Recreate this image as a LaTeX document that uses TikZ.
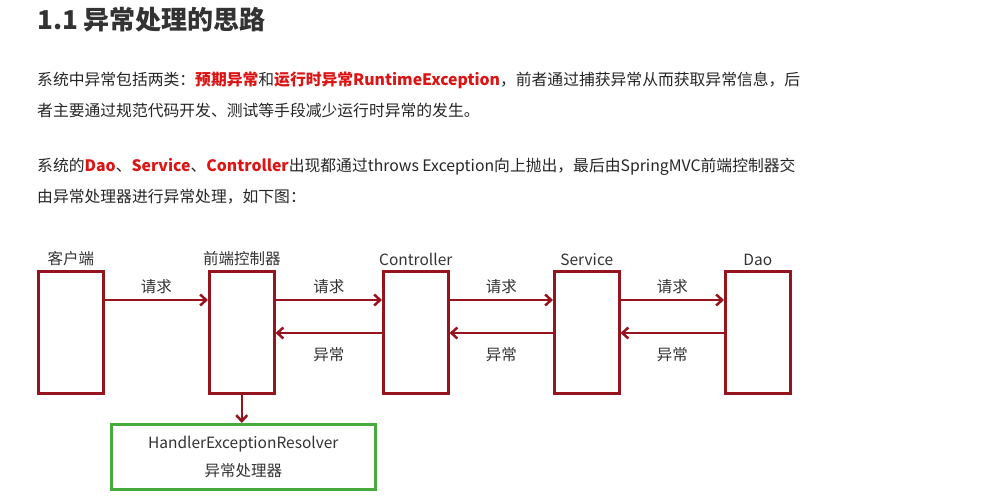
\documentclass[tikz,border=0pt]{standalone}
\usetikzlibrary{arrows.meta}
\usepackage{fontspec}
\setmainfont{Noto Sans CJK SC}
\definecolor{dr}{RGB}{150,20,30}
\definecolor{rt}{RGB}{220,20,20}
\definecolor{gr}{RGB}{70,170,60}
\begin{document}
\begin{tikzpicture}[x=1pt,y=-1pt,
  box/.style={draw=dr,line width=2.5pt,minimum width=65pt,minimum height=122pt,anchor=north west,inner sep=0},
  arr/.style={draw=dr,line width=2.5pt,-{Straight Barb[length=6pt,width=11pt]}},
  lab/.style={font=\fontsize{15.5}{28}\selectfont,text=black!80},
  txt/.style={anchor=west,font=\fontsize{15.8}{18}\selectfont,text=black!85,inner sep=0}]
\useasboundingbox[fill=white] (0,0) rectangle (993,500);
\node[anchor=west,font=\fontsize{26}{30}\selectfont\bfseries,text=black!80,inner sep=0] (t) at (37,20) {1.1 异常处理的思路};
\node[txt] (l1) at (37,80) {系统中异常包括两类：\textcolor{rt}{\bfseries 预期异常}和\textcolor{rt}{\bfseries 运行时异常RuntimeException}，前者通过捕获异常从而获取异常信息，后};
\node[txt] (l2) at (37,110) {者主要通过规范代码开发、测试等手段减少运行时异常的发生。};
\node[txt] (l3) at (37,167) {系统的\textcolor{rt}{\bfseries Dao}、\textcolor{rt}{\bfseries Service}、\textcolor{rt}{\bfseries Controller}出现都通过throws Exception向上抛出，最后由SpringMVC前端控制器交};
\node[txt] (l4) at (37,197) {由异常处理器进行异常处理，如下图：};
\node[box] (c) at (37,270) {};
\node[box] (f) at (208,270) {};
\node[box] (k) at (382,270) {};
\node[box] (s) at (553,270) {};
\node[box] (d) at (724,270) {};
\node[lab,above=1pt] at (c.north) {客户端};
\node[lab,above=1pt] at (f.north) {前端控制器};
\node[lab,above=1pt] at (k.north) {Controller};
\node[lab,above=1pt] at (s.north) {Service};
\node[lab,above=1pt] at (d.north) {Dao};
\foreach \a/\b in {c/f,f/k,k/s,s/d}{
  \draw[arr] (\a.east|-0,300) -- (\b.west|-0,300) node[midway,lab,above=2pt] {请求};
}
\foreach \a/\b in {f/k,k/s,s/d}{
  \draw[arr] (\b.west|-0,333) -- (\a.east|-0,333) node[midway,lab,below=10pt] {异常};
}
\node[draw=gr,line width=2.5pt,minimum width=264pt,minimum height=65pt,anchor=north west,align=center,lab,inner sep=0] (h) at (110,423) {HandlerExceptionResolver\\异常处理器};
\draw[arr] (f.south) -- (f.south|-h.north);
\end{tikzpicture}
\end{document}
